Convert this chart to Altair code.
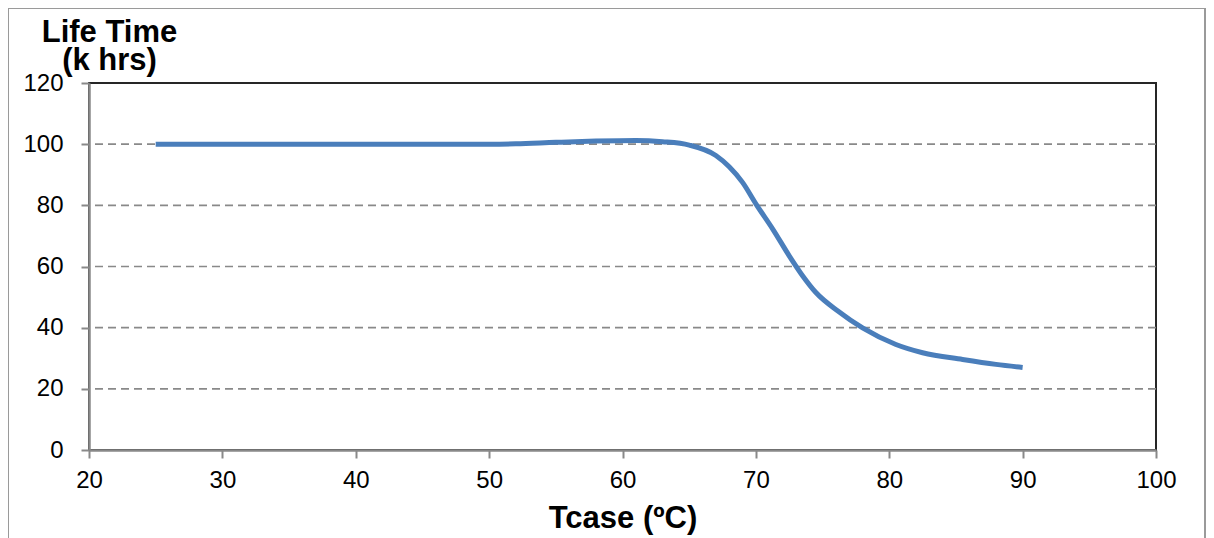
import altair as alt
import pandas as pd

tcase = [25, 30, 40, 50, 52, 55, 58, 61, 63, 65, 67, 68, 69, 70, 71.3, 72.5, 73.5, 74.5, 76.2, 78, 80.5, 82.5, 85.5, 88, 90]
life = [100, 100, 100, 100, 100.1, 100.6, 101, 101.2, 100.8, 99.7, 96.3, 92.6, 87.5, 80.5, 72, 63.5, 57, 51.5, 45.3, 39.9, 34.5, 31.8, 29.6, 28, 27]

x_ticks = [20, 30, 40, 50, 60, 70, 80, 90, 100]
y_ticks = [0, 20, 40, 60, 80, 100, 120]
grid_vals = [20, 40, 60, 80, 100]

df = pd.DataFrame({"t": tcase, "life": life})
grid_df = pd.DataFrame({"g": grid_vals})

FONT = "Liberation Sans"
GRAY = "#898989"

x_scale = alt.Scale(domain=[20, 100], nice=False, zero=False)
y_scale = alt.Scale(domain=[0, 120], nice=False)

x_axis = alt.Axis(values=x_ticks, title="Tcase (ºC)", grid=False, labelFlush=False,
                  labelFontSize=24, labelPadding=10, tickSize=8,
                  tickColor=GRAY, tickWidth=2, domainColor=GRAY, domainWidth=2.5,
                  titleFontSize=31, titleFontWeight="bold", titleY=77,
                  titleBaseline="alphabetic")
y_axis = alt.Axis(values=y_ticks, title=["Life Time", "(k hrs)"], grid=False, labelFlush=False,
                  labelFontSize=24, labelPadding=18, tickSize=8,
                  tickColor=GRAY, tickWidth=2, domainColor=GRAY, domainWidth=2.5,
                  titleFontSize=31, titleFontWeight="bold", titleAngle=0,
                  titleAlign="center", titleBaseline="alphabetic",
                  titleX=20, titleY=-42, titleLineHeight=28)

grid = alt.Chart(grid_df).mark_rule(
    color=GRAY, strokeWidth=1.6, strokeDash=[8, 5]
).encode(
    y=alt.Y("g:Q", scale=y_scale, axis=y_axis)
)

line = alt.Chart(df).mark_line(
    color="#4A7EBB", strokeWidth=5, interpolate="monotone"
).encode(
    x=alt.X("t:Q", scale=x_scale, axis=x_axis),
    y=alt.Y("life:Q", scale=y_scale, axis=y_axis)
)

frame = alt.Chart(grid_df).mark_rect(
    fill=None, stroke="#9a9a9a", strokeWidth=2
).encode(
    x=alt.value(-81), x2=alt.value(1116), y=alt.value(-75), y2=alt.value(480)
)

chart = alt.layer(frame, grid, line).properties(
    width=1067, height=367,
    autosize=alt.AutoSizeParams(type="none"),
    padding={"left": 81, "top": 75, "right": 50, "bottom": 88},
).configure(
    font=FONT
).configure_view(
    stroke="#262626", strokeWidth=2
).configure_axis(
    labelFont=FONT, titleFont=FONT, labelColor="black", titleColor="black"
)

chart.save("out.html", embed_options={"renderer": "svg", "actions": False})
